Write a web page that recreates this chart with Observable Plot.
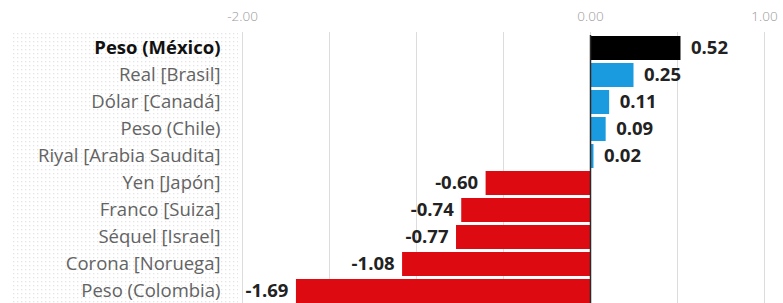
<!DOCTYPE html>
<html>
<head>
<meta charset="utf-8">
<script src="https://cdn.jsdelivr.net/npm/d3@7"></script>
<script src="https://cdn.jsdelivr.net/npm/@observablehq/plot@0.6"></script>
<style>
  html, body { margin: 0; padding: 0; background: #fff; }
  #chart svg { display: block; }
</style>
</head>
<body>
<div id="chart"></div>
<script>
const currencies = ["Peso (México)", "Real [Brasil]", "Dólar [Canadá]", "Peso (Chile)", "Riyal [Arabia Saudita]",
  "Yen [Japón]", "Franco [Suiza]", "Séquel [Israel]", "Corona [Noruega]", "Peso (Colombia)"];
const changes = [0.52, 0.25, 0.11, 0.09, 0.02, -0.60, -0.74, -0.77, -1.08, -1.69];
const tickLabels = [-2, 0, 1];
const gridValues = [-2, -1.5, -1, -0.5, 0, 0.5, 1];
const highlight = "Peso (México)";

const data = currencies.map((name, i) => ({name, value: changes[i]}));
const colorOf = d => d.name === highlight ? "#000000" : (d.value >= 0 ? "#1a9be0" : "#de0a12");
const fmt = v => v.toFixed(2);
const font = "'Open Sans', sans-serif";

const plot = Plot.plot({
  width: 783,
  height: 303,
  marginLeft: 242,
  marginRight: 19,
  marginTop: 35,
  marginBottom: 0,
  style: {fontFamily: font, background: "transparent"},
  x: {domain: [-2, 1], axis: null},
  y: {domain: currencies, paddingInner: 0.12, paddingOuter: 0, axis: null},
  marks: [
    Plot.ruleX(gridValues, {stroke: "#dcdcdc", strokeWidth: 1, insetTop: -3}),
    Plot.axisX({anchor: "top", ticks: tickLabels, tickSize: 0, tickPadding: 15, tickFormat: fmt,
      label: null, fontSize: 13.5, fill: "#9a9a9a", fontWeight: 300}),
    Plot.barX(data, {x: "value", y: "name", fill: colorOf}),
    Plot.ruleX([0], {stroke: "#2a2a2a", strokeWidth: 1.5}),
    Plot.text(data.filter(d => d.value >= 0), {x: "value", y: "name", text: d => fmt(d.value),
      textAnchor: "start", dx: 10, fontSize: 18.5, fontWeight: "bold", fill: "#222"}),
    Plot.text(data.filter(d => d.value < 0), {x: "value", y: "name", text: d => fmt(d.value),
      textAnchor: "end", dx: -8, fontSize: 18.5, fontWeight: "bold", fill: "#222"}),
    Plot.text(data.filter(d => d.name === highlight), {y: "name", text: "name", frameAnchor: "left",
      textAnchor: "end", dx: -22, fontSize: 18.5, fontWeight: "bold", fill: "#111"}),
    Plot.text(data.filter(d => d.name !== highlight), {y: "name", text: "name", frameAnchor: "left",
      textAnchor: "end", dx: -22, fontSize: 18.5, fill: "#636363"})
  ]
});

// dotted texture behind the label column
const svg = d3.select(plot);
const defs = svg.insert("defs", ":first-child");
const pat = defs.append("pattern").attr("id", "dots").attr("width", 4).attr("height", 4)
  .attr("patternUnits", "userSpaceOnUse");
pat.append("rect").attr("x", 1).attr("y", 1).attr("width", 1.3).attr("height", 1.3).attr("fill", "#e4e4e4");
svg.insert("rect", "defs + *").attr("x", 12).attr("y", 33).attr("width", 226).attr("height", 270)
  .attr("fill", "url(#dots)");

document.getElementById("chart").appendChild(plot);
</script>
</body>
</html>
